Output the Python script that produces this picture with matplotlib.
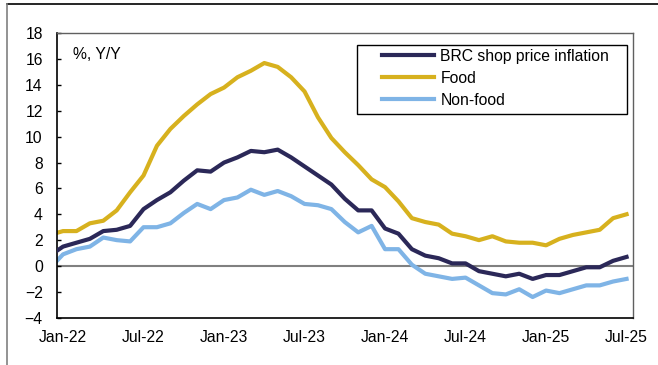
import numpy as np
import matplotlib.pyplot as plt
from matplotlib.patches import Rectangle

# miesiące od Dec-21 do Jul-25 (indeks 0 = Jan-22)
months = np.arange(-1, 43)

brc = [0.8, 1.5, 1.8, 2.1, 2.7, 2.8, 3.1, 4.4, 5.1, 5.7, 6.6, 7.4, 7.3,
       8.0, 8.4, 8.9, 8.8, 9.0, 8.4, 7.7, 7.0, 6.3, 5.2, 4.3, 4.3,
       2.9, 2.5, 1.3, 0.8, 0.6, 0.2, 0.2, -0.4, -0.6, -0.8, -0.6, -1.0,
       -0.7, -0.7, -0.4, -0.1, -0.1, 0.4, 0.7]
food = [2.4, 2.7, 2.7, 3.3, 3.5, 4.3, 5.7, 7.0, 9.3, 10.6, 11.6, 12.5, 13.3,
        13.8, 14.6, 15.1, 15.7, 15.4, 14.6, 13.5, 11.5, 9.9, 8.8, 7.8, 6.7,
        6.1, 5.0, 3.7, 3.4, 3.2, 2.5, 2.3, 2.0, 2.3, 1.9, 1.8, 1.8,
        1.6, 2.1, 2.4, 2.6, 2.8, 3.7, 4.0]
nonfood = [-0.2, 0.9, 1.3, 1.5, 2.2, 2.0, 1.9, 3.0, 3.0, 3.3, 4.1, 4.8, 4.4,
           5.1, 5.3, 5.9, 5.5, 5.8, 5.4, 4.8, 4.7, 4.4, 3.4, 2.6, 3.1,
           1.3, 1.3, 0.1, -0.6, -0.8, -1.0, -0.9, -1.5, -2.1, -2.2, -1.8, -2.4,
           -1.9, -2.1, -1.8, -1.5, -1.5, -1.2, -1.0]

tick_pos = [0, 6, 12, 18, 24, 30, 36, 42]
tick_labels = ['Jan-22', 'Jul-22', 'Jan-23', 'Jul-23', 'Jan-24', 'Jul-24', 'Jan-25', 'Jul-25']

plt.rcParams['font.family'] = ['Liberation Sans', 'DejaVu Sans']
fs = 11.3

fig = plt.figure(figsize=(6.58, 3.65), dpi=100)
ax = fig.add_axes([0.0862, 0.1296, 0.962 - 0.0862, 0.9088 - 0.1296])

ax.axhline(0, color='#808080', lw=1.5, zorder=1)
l1, = ax.plot(months, brc, color='#2b2858', lw=3, label='BRC shop price inflation', zorder=3)
l2, = ax.plot(months, food, color='#d7b11e', lw=3, label='Food', zorder=2)
l3, = ax.plot(months, nonfood, color='#7fb4e6', lw=3, label='Non-food', zorder=2)

ax.set_xlim(-0.47, 42.48)
ax.set_ylim(-4, 18)
ax.set_yticks(np.arange(-4, 19, 2))
ax.set_xticks(tick_pos)
ax.set_xticklabels(tick_labels)
ax.tick_params(axis='x', length=0, pad=9, labelsize=fs)
ax.tick_params(axis='y', direction='in', length=3, width=1, pad=10, labelsize=fs)

for s in ['left', 'bottom']:
    ax.spines[s].set_color('black')
    ax.spines[s].set_linewidth(1.2)
for s in ['top', 'right']:
    ax.spines[s].set_color('#606060')
    ax.spines[s].set_linewidth(1.0)

ax.text(0.028, 0.927, '%, Y/Y', transform=ax.transAxes, fontsize=fs, va='center', ha='left')

# ramka legendy rysowana osobno, żeby zgadzały się odstępy
ax.add_patch(Rectangle((0.5206, 0.7152), 0.9896 - 0.5206, 0.959 - 0.7152,
                       transform=ax.transAxes, fill=True, facecolor='white',
                       edgecolor='black', lw=1.0, zorder=4))
leg = ax.legend(handles=[l1, l2, l3], loc='upper left', bbox_to_anchor=(0.564, 0.945),
                borderaxespad=0, fontsize=fs, frameon=False,
                handlelength=3.3, handletextpad=0.43, labelspacing=0.44, borderpad=0)
leg.set_zorder(5)

# ramka zewnętrzna (fragment)
fig.add_artist(plt.Line2D([0.011, 1.0], [0.988, 0.988], transform=fig.transFigure, color='black', lw=1.2))
fig.add_artist(plt.Line2D([0.011, 0.011], [0.0, 0.988], transform=fig.transFigure, color='#808080', lw=1.2))

fig.savefig('out.png', dpi=100)
